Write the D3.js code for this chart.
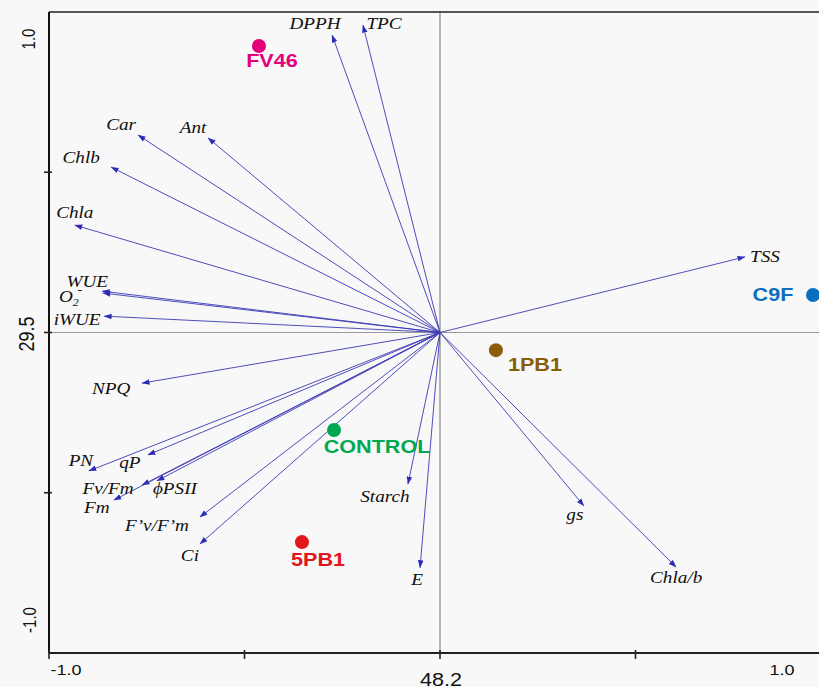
<!DOCTYPE html>
<html><head><meta charset="utf-8">
<script src="https://cdn.jsdelivr.net/npm/d3@7"></script>
<style>
html,body{margin:0;padding:0;background:#f8f8f8;}
svg{display:block;}
</style></head>
<body>
<svg id="chart" width="819" height="687"></svg>
<script>
// ---- data ----
const variables = ["DPPH","TPC","Car","Ant","Chlb","Chla","WUE","O2-","iWUE","NPQ","PN","qP","Fv/Fm","ϕPSII","Fm","F’v/F’m","Ci","Starch","E","gs","Chla/b","TSS"];
const loadingX = [-0.276,-0.197,-0.772,-0.593,-0.841,-0.934,-0.864,-0.862,-0.859,-0.762,-0.898,-0.747,-0.762,-0.724,-0.834,-0.614,-0.614,-0.082,-0.051,0.368,0.604,0.780];
const loadingY = [0.928,0.959,0.616,0.607,0.516,0.335,0.129,0.123,0.051,-0.158,-0.432,-0.382,-0.476,-0.463,-0.523,-0.576,-0.660,-0.473,-0.734,-0.541,-0.732,0.236];
const treatments = ["FV46","C9F","1PB1","CONTROL","5PB1"];
const scoreX = [-0.463,0.954,0.143,-0.271,-0.353];
const scoreY = [0.894,0.117,-0.055,-0.304,-0.654];
const xTickValues = [-1,-0.5,0,0.5,1];
const yTickValues = [-1,-0.5,0,0.5,1];
const xTickLabels = ["-1.0","","48.2","","1.0"];
const yTickLabels = ["-1.0","","29.5","","1.0"];

// ---- layout / style (not data) ----
const treatColors = {"FV46":"#e4007c","C9F":"#0a6fc0","1PB1":"#8b5c0a","CONTROL":"#00a84f","5PB1":"#e3161b"};
const varLabelOffset = {
  "DPPH":[-17,-6],"TPC":[21,4],"Car":[-17,-5],"Ant":[-15,-5],"Chlb":[-30,-4],"Chla":[0,-7],
  "WUE":[-15,-4],"O2-":[-44,9],"iWUE":[-27,9],"NPQ":[-31,11],"PN":[-8,-5],"qP":[-18,13],
  "Fv/Fm":[-34,9],"ϕPSII":[18,13],"Fm":[-17,13],"F’v/F’m":[-43,14],"Ci":[-10,17],
  "Starch":[-23,18],"E":[-3,17],"gs":[-9,14],"Chla/b":[0,16],"TSS":[20,5]
};
const treatLabelOffset = {"FV46":[13,21],"C9F":[-40,6],"1PB1":[39,21],"CONTROL":[43,23],"5PB1":[16,24]};

const svg = d3.select("#chart");
const W = 819, H = 687;
const x = d3.scaleLinear().domain([-1,1]).range([49,831]);
const y = d3.scaleLinear().domain([-1,1]).range([653,12]);
const SX = 1.2; // horizontal stretch of the original picture

// centre lines
svg.append("line").attr("x1",x(0)).attr("x2",x(0)).attr("y1",y(1)).attr("y2",y(-1))
  .attr("stroke","#8a8a8a").attr("stroke-width",1.2);
svg.append("line").attr("x1",x(-1)).attr("x2",W).attr("y1",y(0)).attr("y2",y(0))
  .attr("stroke","#9a9a9a").attr("stroke-width",1.2);

// frame
svg.append("line").attr("x1",x(-1)).attr("x2",W).attr("y1",y(1)).attr("y2",y(1))
  .attr("stroke","#222").attr("stroke-width",1.6);
svg.append("line").attr("x1",x(-1)).attr("x2",W).attr("y1",y(-1)).attr("y2",y(-1))
  .attr("stroke","#222").attr("stroke-width",2);
svg.append("line").attr("x1",x(-1)).attr("x2",x(-1)).attr("y1",y(1)).attr("y2",y(-1))
  .attr("stroke","#111").attr("stroke-width",2);

// ticks
svg.append("g").selectAll("line").data(xTickValues.filter(v=>x(v)<=W)).join("line")
  .attr("x1",d=>x(d)).attr("x2",d=>x(d)).attr("y1",y(-1)-3).attr("y2",y(-1)+6)
  .attr("stroke","#222").attr("stroke-width",1.6);
svg.append("g").selectAll("line").data(yTickValues.filter(v=>v>-1&&v<1)).join("line")
  .attr("x1",x(-1)-5).attr("x2",x(-1)+3).attr("y1",d=>y(d)).attr("y2",d=>y(d))
  .attr("stroke","#222").attr("stroke-width",1.6);

// tick labels
const xLabPos = [[66,675,15],[0,0,0],[441,686,18],[0,0,0],[782,675,15]];
xTickLabels.forEach((t,i)=>{
  if(!t) return;
  const p = xLabPos[i];
  svg.append("text").text(t).attr("text-anchor","middle")
    .attr("transform",`translate(${p[0]},${p[1]}) scale(${SX},1)`)
    .attr("font-family","Liberation Sans, Arial, sans-serif").attr("font-size",p[2]).attr("fill","#111");
});
const yLabPos = [[36,620,15],[0,0,0],[34,334,18],[0,0,0],[35,39,15]];
yTickLabels.forEach((t,i)=>{
  if(!t) return;
  const p = yLabPos[i];
  svg.append("text").text(t).attr("text-anchor","middle")
    .attr("transform",`translate(${p[0]},${p[1]}) rotate(-90) scale(1,${SX})`)
    .attr("font-family","Liberation Sans, Arial, sans-serif").attr("font-size",p[2]).attr("fill","#111");
});

// arrow marker
svg.append("defs").append("marker").attr("id","ah")
  .attr("viewBox","0 -4 9 8").attr("refX",8.5).attr("refY",0)
  .attr("markerWidth",8).attr("markerHeight",7).attr("markerUnits","userSpaceOnUse")
  .attr("orient","auto")
  .append("path").attr("d","M0,-3.2L9,0L0,3.2Z").attr("fill","#2c2cb4");

const loadings = variables.map((v,i)=>({name:v,x:loadingX[i],y:loadingY[i]}));
svg.append("g").selectAll("line").data(loadings).join("line")
  .attr("x1",x(0)).attr("y1",y(0)).attr("x2",d=>x(d.x)).attr("y2",d=>y(d.y))
  .attr("stroke","#3a3ab4").attr("stroke-width",0.9).attr("marker-end","url(#ah)");

// variable labels
const vl = svg.append("g").attr("font-family","Liberation Serif, Times New Roman, serif")
  .attr("font-style","italic").attr("font-size",16).attr("fill","#111");
loadings.forEach(d=>{
  const o = varLabelOffset[d.name];
  const tx = x(d.x)+o[0], ty = y(d.y)+o[1];
  if(d.name==="O2-"){
    const t = vl.append("text").attr("text-anchor","start")
      .attr("transform",`translate(${tx},${ty}) scale(${SX},1)`);
    t.append("tspan").text("O");
    t.append("tspan").text("2").attr("font-size",10).attr("dy",4);
    t.append("tspan").text("-").attr("font-size",12).attr("dx",-1).attr("dy",-12);
  } else {
    vl.append("text").text(d.name).attr("text-anchor","middle")
      .attr("transform",`translate(${tx},${ty}) scale(${SX},1)`);
  }
});

// treatment scores
const scores = treatments.map((t,i)=>({name:t,x:scoreX[i],y:scoreY[i]}));
svg.append("g").selectAll("circle").data(scores).join("circle")
  .attr("cx",d=>x(d.x)).attr("cy",d=>y(d.y)).attr("r",7)
  .attr("fill",d=>treatColors[d.name]);
svg.append("g").selectAll("text").data(scores).join("text")
  .text(d=>d.name).attr("text-anchor","middle")
  .attr("transform",d=>`translate(${x(d.x)+treatLabelOffset[d.name][0]},${y(d.y)+treatLabelOffset[d.name][1]}) scale(${SX},1)`)
  .attr("font-family","Liberation Sans, Arial, sans-serif").attr("font-weight","bold")
  .attr("font-size",18).attr("fill",d=>treatColors[d.name]);
</script>
</body></html>
